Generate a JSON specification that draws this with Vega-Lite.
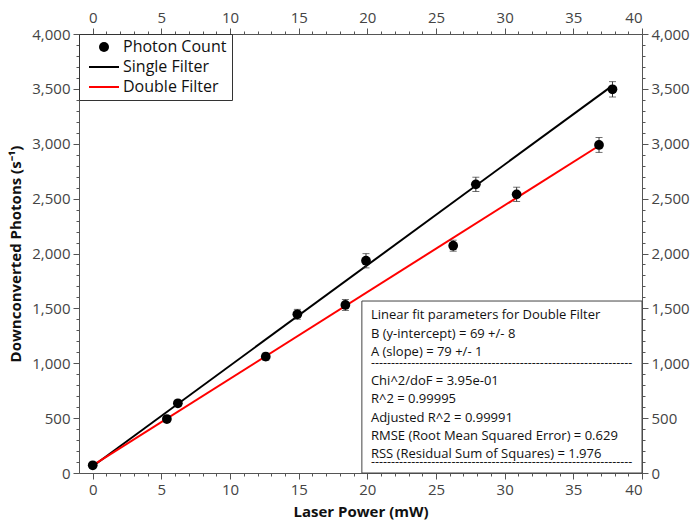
{
  "$schema": "https://vega.github.io/schema/vega-lite/v6.json",
  "width": 563,
  "height": 439,
  "autosize": {"type": "none"},
  "padding": {"left": 79, "top": 34, "right": 56, "bottom": 51},
  "background": "white",
  "config": {
    "font": "Open Sans",
    "view": {"stroke": null},
    "axis": {
      "grid": false,
      "domainColor": "#555",
      "tickColor": "#555",
      "labelColor": "#444",
      "labelFontSize": 15,
      "labelFont": "Open Sans",
      "titleFont": "Open Sans",
      "titleFontSize": 15,
      "titleFontWeight": "bold",
      "titleColor": "#111"
    }
  },
  "datasets": {
    "points": [
      {"p": 0, "c": 70, "err": 10},
      {"p": 5.4, "c": 492, "err": 22},
      {"p": 6.2, "c": 635, "err": 25},
      {"p": 12.6, "c": 1060, "err": 33},
      {"p": 14.9, "c": 1446, "err": 45},
      {"p": 18.4, "c": 1531, "err": 50},
      {"p": 19.9, "c": 1934, "err": 65},
      {"p": 26.25, "c": 2071, "err": 50},
      {"p": 27.9, "c": 2630, "err": 65},
      {"p": 30.87, "c": 2539, "err": 65},
      {"p": 36.87, "c": 2989, "err": 68},
      {"p": 37.85, "c": 3496, "err": 70}
    ],
    "single": [
      {"p": 0, "c": 62, "series": "Single Filter"},
      {"p": 37.85, "c": 3530, "series": "Single Filter"}
    ],
    "double": [
      {"p": 0, "c": 69, "series": "Double Filter"},
      {"p": 36.87, "c": 2982, "series": "Double Filter"}
    ]
  },
  "layer": [
    {
      "data": {"values": [{}]},
      "mark": {"type": "rect", "fill": "white", "stroke": "#444", "strokeWidth": 1},
      "encoding": {
        "x": {"datum": 19.6, "type": "quantitative", "scale": {"domain": [-1, 40], "nice": false, "zero": false},
          "axis": {"orient": "bottom", "values": [0, 5, 10, 15, 20, 25, 30, 35, 40], "title": "Laser Power (mW)", "tickSize": 6, "labelPadding": 3, "titlePadding": 7}},
        "x2": {"datum": 40},
        "y": {"datum": 0, "type": "quantitative", "scale": {"domain": [0, 4000], "nice": false, "zero": false},
          "axis": {"orient": "left", "values": [0, 500, 1000, 1500, 2000, 2500, 3000, 3500, 4000], "format": ",.0f", "title": "Downconverted Photons (s⁻¹)", "tickSize": 6, "labelPadding": 3, "titlePadding": 8}},
        "y2": {"datum": 1567}
      }
    },
    {
      "data": {"name": "single"},
      "mark": {"type": "line", "color": "black", "strokeWidth": 2},
      "encoding": {
        "x": {"field": "p", "type": "quantitative", "scale": {"domain": [-1, 40], "nice": false, "zero": false},
          "axis": {"orient": "top", "values": [0, 5, 10, 15, 20, 25, 30, 35, 40], "title": null, "tickSize": 6, "labelPadding": 3}},
        "y": {"field": "c", "type": "quantitative", "scale": {"domain": [0, 4000], "nice": false, "zero": false},
          "axis": {"orient": "right", "values": [0, 500, 1000, 1500, 2000, 2500, 3000, 3500, 4000], "format": ",.0f", "title": null, "tickSize": 6, "labelPadding": 3}}
      }
    },
    {
      "data": {"name": "double"},
      "mark": {"type": "line", "color": "#ff0000", "strokeWidth": 2},
      "encoding": {
        "x": {"field": "p", "type": "quantitative", "scale": {"domain": [-1, 40], "nice": false, "zero": false}, "axis": null},
        "y": {"field": "c", "type": "quantitative", "scale": {"domain": [0, 4000], "nice": false, "zero": false}, "axis": null}
      }
    },
    {
      "data": {"name": "points"},
      "mark": {"type": "errorbar", "ticks": true, "size": 7, "color": "#333", "thickness": 1},
      "encoding": {
        "x": {"field": "p", "type": "quantitative", "scale": {"domain": [-1, 40], "nice": false, "zero": false}, "axis": null},
        "y": {"field": "c", "type": "quantitative", "scale": {"domain": [0, 4000], "nice": false, "zero": false}, "axis": null},
        "yError": {"field": "err"}
      }
    },
    {
      "data": {"name": "points"},
      "mark": {"type": "point", "filled": true, "size": 95, "opacity": 1},
      "encoding": {
        "x": {"field": "p", "type": "quantitative", "scale": {"domain": [-1, 40], "nice": false, "zero": false},
          "axis": {"orient": "bottom", "values": [0,1,2,3,4,5,6,7,8,9,10,11,12,13,14,15,16,17,18,19,20,21,22,23,24,25,26,27,28,29,30,31,32,33,34,35,36,37,38,39,40], "labels": false, "domain": false, "title": null, "tickSize": 3}},
        "y": {"field": "c", "type": "quantitative", "scale": {"domain": [0, 4000], "nice": false, "zero": false},
          "axis": {"orient": "left", "values": [0,100,200,300,400,500,600,700,800,900,1000,1100,1200,1300,1400,1500,1600,1700,1800,1900,2000,2100,2200,2300,2400,2500,2600,2700,2800,2900,3000,3100,3200,3300,3400,3500,3600,3700,3800,3900,4000], "labels": false, "domain": false, "title": null, "tickSize": 3}},
        "color": {"datum": "Photon Count", "type": "nominal",
          "scale": {"domain": ["Photon Count", "Single Filter", "Double Filter"], "range": ["black", "black", "#ff0000"]},
          "legend": {"orient": "top-left", "offset": 0, "title": null, "labelFontSize": 16, "labelColor": "#111", "labelFont": "Open Sans", "strokeColor": "#333", "fillColor": "white", "padding": 5, "rowPadding": 4, "symbolOffset": 12, "labelOffset": 11}},
        "shape": {"datum": "Photon Count", "type": "nominal",
          "scale": {"domain": ["Photon Count", "Single Filter", "Double Filter"], "range": ["circle", "M-3,-0.2H3V0.2H-3Z", "M-3,-0.2H3V0.2H-3Z"]},
          "legend": {"orient": "top-left", "offset": 0, "title": null, "labelFontSize": 16, "labelColor": "#111", "labelFont": "Open Sans", "strokeColor": "#333", "fillColor": "white", "padding": 5, "rowPadding": 4, "symbolOffset": 12, "labelOffset": 11}}
      }
    },
    {
      "data": {"values": [{}]},
      "mark": {"type": "text", "align": "left", "baseline": "alphabetic", "fontSize": 13, "color": "#111", "lineHeight": 18.5,
        "text": ["Linear fit parameters for Double Filter", "B (y-intercept) = 69 +/- 8", "A (slope) = 79 +/- 1"]},
      "encoding": {
        "x": {"datum": 20.26, "type": "quantitative", "scale": {"domain": [-1, 40], "nice": false, "zero": false},
          "axis": {"orient": "top", "values": [0,1,2,3,4,5,6,7,8,9,10,11,12,13,14,15,16,17,18,19,20,21,22,23,24,25,26,27,28,29,30,31,32,33,34,35,36,37,38,39,40], "labels": false, "domain": false, "title": null, "tickSize": 3}},
        "y": {"datum": 1399, "type": "quantitative", "scale": {"domain": [0, 4000], "nice": false, "zero": false},
          "axis": {"orient": "right", "values": [0,100,200,300,400,500,600,700,800,900,1000,1100,1200,1300,1400,1500,1600,1700,1800,1900,2000,2100,2200,2300,2400,2500,2600,2700,2800,2900,3000,3100,3200,3300,3400,3500,3600,3700,3800,3900,4000], "labels": false, "domain": false, "title": null, "tickSize": 3}}
      }
    },
    {
      "data": {"values": [{}]},
      "mark": {"type": "text", "align": "left", "baseline": "alphabetic", "fontSize": 12.5, "color": "#111",
        "text": "-----------------------------------------------------------------"},
      "encoding": {
        "x": {"datum": 20.26, "type": "quantitative", "scale": {"domain": [-1, 40], "nice": false, "zero": false}, "axis": null},
        "y": {"datum": 966, "type": "quantitative", "scale": {"domain": [0, 4000], "nice": false, "zero": false}, "axis": null}
      }
    },
    {
      "data": {"values": [{}]},
      "mark": {"type": "text", "align": "left", "baseline": "alphabetic", "fontSize": 13, "color": "#111", "lineHeight": 18.3,
        "text": ["Chi^2/doF = 3.95e-01", "R^2 = 0.99995", "Adjusted R^2 = 0.99991", "RMSE (Root Mean Squared Error) = 0.629", "RSS (Residual Sum of Squares) = 1.976"]},
      "encoding": {
        "x": {"datum": 20.26, "type": "quantitative", "scale": {"domain": [-1, 40], "nice": false, "zero": false}, "axis": null},
        "y": {"datum": 802, "type": "quantitative", "scale": {"domain": [0, 4000], "nice": false, "zero": false}, "axis": null}
      }
    },
    {
      "data": {"values": [{}]},
      "mark": {"type": "text", "align": "left", "baseline": "alphabetic", "fontSize": 12.5, "color": "#111",
        "text": "-----------------------------------------------------------------"},
      "encoding": {
        "x": {"datum": 20.26, "type": "quantitative", "scale": {"domain": [-1, 40], "nice": false, "zero": false}, "axis": null},
        "y": {"datum": 64, "type": "quantitative", "scale": {"domain": [0, 4000], "nice": false, "zero": false}, "axis": null}
      }
    }
  ],
  "resolve": {"scale": {"x": "shared", "y": "shared"}, "axis": {"x": "independent", "y": "independent"}}
}
